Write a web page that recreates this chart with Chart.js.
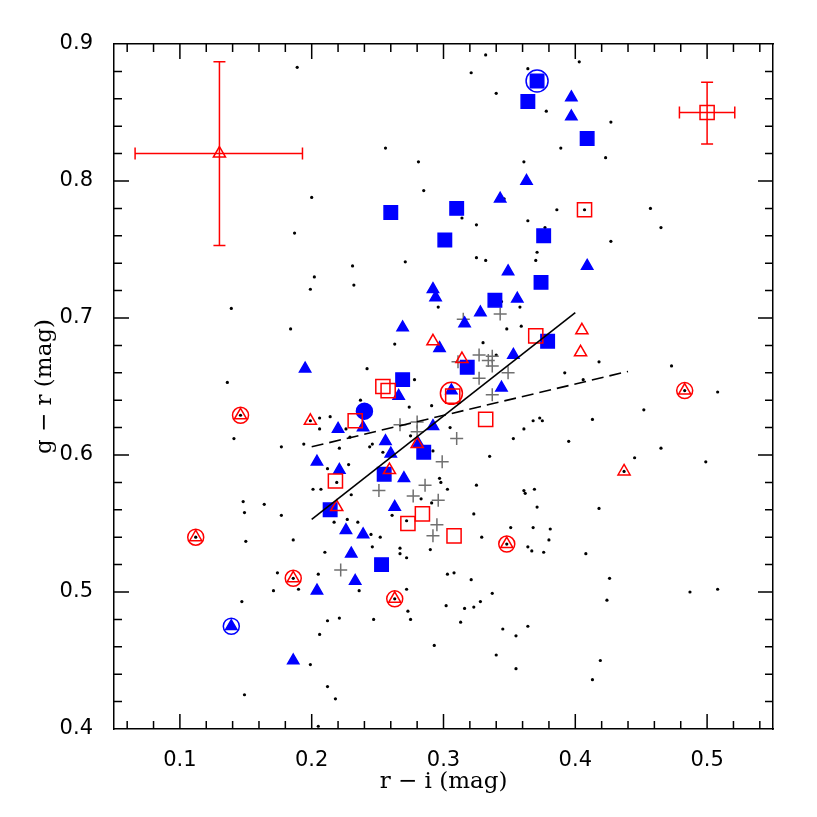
<!DOCTYPE html>
<html>
<head>
<meta charset="utf-8">
<title>g - r vs r - i</title>
<script src="https://cdn.jsdelivr.net/npm/chart.js@4.4.0/dist/chart.umd.min.js"></script>
<style>
  body { margin: 0; background: #fff; }
  canvas { display: block; }
</style>
</head>
<body>
<canvas id="my-chart" width="817" height="817"></canvas>
<script>
'use strict';

// Data

let xTickLabels = [0.1, 0.2, 0.3, 0.4, 0.5];
let yTickLabels = [0.4, 0.5, 0.6, 0.7, 0.8, 0.9];

// small black field points
let fieldDots = [
  [0.189, 0.883], [0.200, 0.788], [0.187, 0.762], [0.202, 0.730], [0.332, 0.892], [0.321, 0.879],
  [0.364, 0.882], [0.340, 0.864], [0.378, 0.851], [0.256, 0.824], [0.281, 0.814], [0.361, 0.814],
  [0.389, 0.824], [0.285, 0.793], [0.346, 0.787], [0.314, 0.773], [0.325, 0.768], [0.364, 0.771],
  [0.386, 0.779], [0.377, 0.766], [0.371, 0.748], [0.231, 0.738], [0.271, 0.741], [0.325, 0.744],
  [0.332, 0.742], [0.370, 0.742], [0.403, 0.887], [0.427, 0.843], [0.423, 0.817], [0.407, 0.779],
  [0.457, 0.780], [0.465, 0.766], [0.427, 0.756], [0.199, 0.721], [0.139, 0.707], [0.184, 0.692],
  [0.136, 0.653], [0.199, 0.625], [0.206, 0.627], [0.214, 0.628], [0.206, 0.619], [0.226, 0.619],
  [0.141, 0.612], [0.177, 0.606], [0.194, 0.608], [0.221, 0.605], [0.229, 0.613], [0.212, 0.590],
  [0.228, 0.593], [0.219, 0.580], [0.201, 0.575], [0.207, 0.575], [0.148, 0.566], [0.164, 0.564],
  [0.149, 0.558], [0.177, 0.556], [0.217, 0.551], [0.150, 0.537], [0.186, 0.538], [0.210, 0.529],
  [0.174, 0.514], [0.205, 0.513], [0.171, 0.501], [0.190, 0.502], [0.147, 0.493], [0.212, 0.479],
  [0.221, 0.481], [0.206, 0.469], [0.199, 0.447], [0.212, 0.431], [0.149, 0.425], [0.218, 0.422],
  [0.205, 0.402], [0.232, 0.724], [0.344, 0.712], [0.296, 0.708], [0.358, 0.708], [0.348, 0.692],
  [0.359, 0.694], [0.330, 0.682], [0.263, 0.681], [0.340, 0.673], [0.242, 0.663], [0.278, 0.655],
  [0.237, 0.640], [0.274, 0.635], [0.291, 0.636], [0.305, 0.620], [0.361, 0.619], [0.368, 0.625],
  [0.373, 0.627], [0.375, 0.625], [0.353, 0.612], [0.395, 0.610], [0.246, 0.608], [0.244, 0.606],
  [0.275, 0.614], [0.254, 0.602], [0.292, 0.603], [0.335, 0.599], [0.297, 0.583], [0.298, 0.580],
  [0.303, 0.575], [0.325, 0.578], [0.369, 0.575], [0.361, 0.574], [0.362, 0.572], [0.283, 0.568],
  [0.291, 0.565], [0.371, 0.562], [0.230, 0.571], [0.227, 0.553], [0.235, 0.551], [0.245, 0.542],
  [0.252, 0.540], [0.261, 0.556], [0.323, 0.557], [0.329, 0.540], [0.351, 0.547], [0.368, 0.547],
  [0.381, 0.546], [0.380, 0.538], [0.364, 0.533], [0.367, 0.530], [0.376, 0.529], [0.246, 0.533],
  [0.267, 0.532], [0.267, 0.528], [0.272, 0.525], [0.290, 0.531], [0.272, 0.502], [0.273, 0.486],
  [0.275, 0.480], [0.303, 0.513], [0.308, 0.514], [0.321, 0.509], [0.337, 0.499], [0.328, 0.493],
  [0.323, 0.489], [0.316, 0.488], [0.302, 0.490], [0.313, 0.478], [0.247, 0.480], [0.345, 0.473],
  [0.355, 0.468], [0.364, 0.475], [0.293, 0.461], [0.340, 0.454], [0.355, 0.444], [0.272, 0.552],
  [0.236, 0.501], [0.418, 0.668], [0.473, 0.665], [0.392, 0.660], [0.406, 0.655], [0.508, 0.646],
  [0.452, 0.633], [0.413, 0.626], [0.465, 0.605], [0.445, 0.598], [0.499, 0.595], [0.418, 0.561],
  [0.408, 0.528], [0.426, 0.510], [0.424, 0.494], [0.487, 0.500], [0.508, 0.502], [0.419, 0.450],
  [0.413, 0.436], [0.146, 0.629], [0.112, 0.540], [0.186, 0.510], [0.263, 0.495], [0.348, 0.535],
  [0.483, 0.647], [0.437, 0.588]
];

let grayPlus = [
  [0.343, 0.703], [0.315, 0.699], [0.327, 0.673], [0.337, 0.672], [0.334, 0.669], [0.337, 0.665],
  [0.311, 0.668], [0.349, 0.660], [0.327, 0.656], [0.337, 0.644], [0.267, 0.622], [0.280, 0.624],
  [0.280, 0.617], [0.310, 0.612], [0.299, 0.595], [0.286, 0.578], [0.251, 0.574], [0.277, 0.570],
  [0.296, 0.567], [0.295, 0.549], [0.292, 0.541], [0.222, 0.516]
];

let blueTriangles = [
  [0.397, 0.861], [0.397, 0.847], [0.363, 0.800], [0.343, 0.787], [0.409, 0.738], [0.349, 0.734],
  [0.292, 0.721], [0.294, 0.715], [0.356, 0.714], [0.328, 0.704], [0.316, 0.696], [0.269, 0.693],
  [0.297, 0.678], [0.195, 0.663], [0.353, 0.673], [0.306, 0.647], [0.344, 0.649], [0.266, 0.643],
  [0.220, 0.619], [0.239, 0.620], [0.292, 0.621], [0.256, 0.610], [0.281, 0.608], [0.204, 0.595],
  [0.221, 0.589], [0.260, 0.601], [0.270, 0.583], [0.263, 0.562], [0.226, 0.545], [0.239, 0.542],
  [0.230, 0.528], [0.233, 0.508], [0.204, 0.501], [0.186, 0.450], [0.139, 0.475]
];

let blueSquares = [
  [0.371, 0.873], [0.364, 0.858], [0.409, 0.831], [0.260, 0.777], [0.310, 0.780], [0.301, 0.757],
  [0.376, 0.760], [0.374, 0.726], [0.339, 0.713], [0.379, 0.683], [0.318, 0.664], [0.269, 0.655],
  [0.285, 0.602], [0.255, 0.586], [0.214, 0.560], [0.253, 0.520]
];

let blueRingsBig = [[0.371, 0.873]];
let blueRings = [[0.139, 0.475]];
let blueDiscs = [[0.240, 0.632]];

let redSquares = [
  [0.407, 0.779], [0.370, 0.687], [0.254, 0.650], [0.258, 0.647], [0.307, 0.643], [0.332, 0.626],
  [0.233, 0.625], [0.218, 0.581], [0.284, 0.557], [0.273, 0.550], [0.308, 0.541]
];

let redTriangles = [
  [0.405, 0.691], [0.404, 0.675], [0.292, 0.683], [0.314, 0.670], [0.199, 0.625], [0.280, 0.608],
  [0.259, 0.589], [0.219, 0.562], [0.437, 0.588], [0.146, 0.629], [0.112, 0.540], [0.186, 0.510],
  [0.263, 0.495], [0.348, 0.535], [0.483, 0.647]
];

let redRings = [[0.146, 0.629], [0.112, 0.540], [0.186, 0.510], [0.263, 0.495], [0.348, 0.535], [0.483, 0.647]];
let redRingsBig = [[0.306, 0.645]];

// fits
let fitSolid = [[0.2, 0.553], [0.4, 0.704]];
let fitDashed = [[0.2, 0.606], [0.44, 0.661]];

// typical error points
let errTriangle = [[0.13, 0.82]];
let errSquare = [[0.5, 0.85]];
let errPoints = [[0.13, 0.82], [0.5, 0.85]];
let errX = [[0.066, 0.193], [0.479, 0.521]];
let errY = [[0.753, 0.887], [0.827, 0.872]];

// Helper Functions

function toXY(arr) {
  return arr.map(p => ({ x: p[0], y: p[1] }));
}

function markerSet(arr, style, radius, fill, stroke) {
  return {
    data: toXY(arr),
    pointStyle: style,
    pointRadius: radius,
    pointBackgroundColor: fill,
    pointBorderColor: stroke,
    pointBorderWidth: 1.5,
    showLine: false
  };
}

function lineSet(arr, dash) {
  return {
    data: toXY(arr),
    showLine: true,
    borderColor: '#000',
    borderWidth: 1.6,
    borderDash: dash,
    pointRadius: 0,
    fill: false
  };
}

// Plugins

let insideTicks = {
  id: 'insideTicks',
  afterDraw(chart) {
    let ctx = chart.ctx;
    let xs = chart.scales.x;
    let ys = chart.scales.y;
    let area = chart.chartArea;
    ctx.save();
    ctx.strokeStyle = '#000';
    ctx.lineWidth = 1.5;
    ctx.beginPath();
    for (let i = 3; i <= 27; i++) {
      let px = xs.getPixelForValue(i * 0.02);
      let len = i % 5 === 0 ? 15 : 8;
      ctx.moveTo(px, area.bottom);
      ctx.lineTo(px, area.bottom - len);
      ctx.moveTo(px, area.top);
      ctx.lineTo(px, area.top + len);
    }
    for (let i = 21; i <= 44; i++) {
      let py = ys.getPixelForValue(i * 0.02);
      let len = i % 5 === 0 ? 15 : 8;
      ctx.moveTo(area.left, py);
      ctx.lineTo(area.left + len, py);
      ctx.moveTo(area.right, py);
      ctx.lineTo(area.right - len, py);
    }
    ctx.stroke();
    ctx.restore();
  }
};

let errorBars = {
  id: 'errorBars',
  afterDatasetsDraw(chart) {
    let ctx = chart.ctx;
    let xs = chart.scales.x;
    let ys = chart.scales.y;
    let cap = 6;
    ctx.save();
    ctx.strokeStyle = '#ff0000';
    ctx.lineWidth = 1.5;
    ctx.beginPath();
    for (let i = 0; i < errPoints.length; i++) {
      let cx = xs.getPixelForValue(errPoints[i][0]);
      let cy = ys.getPixelForValue(errPoints[i][1]);
      let x0 = xs.getPixelForValue(errX[i][0]);
      let x1 = xs.getPixelForValue(errX[i][1]);
      let y0 = ys.getPixelForValue(errY[i][0]);
      let y1 = ys.getPixelForValue(errY[i][1]);
      ctx.moveTo(x0, cy); ctx.lineTo(x1, cy);
      ctx.moveTo(cx, y0); ctx.lineTo(cx, y1);
      ctx.moveTo(x0, cy - cap); ctx.lineTo(x0, cy + cap);
      ctx.moveTo(x1, cy - cap); ctx.lineTo(x1, cy + cap);
      ctx.moveTo(cx - cap, y0); ctx.lineTo(cx + cap, y0);
      ctx.moveTo(cx - cap, y1); ctx.lineTo(cx + cap, y1);
    }
    ctx.stroke();
    ctx.restore();
  }
};

// Chart Stuff

let canvasElem = document.getElementById('my-chart');
let clear = 'rgba(0,0,0,0)';
let red = '#ff0000';
let blue = '#0000ff';
let tickFont = { family: 'DejaVu Sans', size: 21 };
let titleFont = { family: 'DejaVu Serif', size: 23 };
let border = { display: true, color: '#000', width: 1.5 };

// first dataset ends up on top
let datasets = [
  lineSet(fitSolid, []),
  lineSet(fitDashed, [12, 6]),
  markerSet(errSquare, 'rect', 10, clear, red),
  markerSet(errTriangle, 'triangle', 7, clear, red),
  markerSet(redRingsBig, 'circle', 11, clear, red),
  markerSet(redRings, 'circle', 8, clear, red),
  markerSet(redTriangles, 'triangle', 7, clear, red),
  markerSet(redSquares, 'rect', 10, clear, red),
  markerSet(blueRingsBig, 'circle', 11, clear, blue),
  markerSet(blueRings, 'circle', 8, clear, blue),
  markerSet(blueDiscs, 'circle', 8, blue, blue),
  markerSet(blueSquares, 'rect', 9.5, blue, blue),
  markerSet(blueTriangles, 'triangle', 6.5, blue, blue),
  markerSet(grayPlus, 'cross', 6.5, clear, '#707070'),
  markerSet(fieldDots, 'circle', 1.6, '#000', '#000')
];
datasets[datasets.length - 1].pointBorderWidth = 0;

let myObj = {
  type: 'scatter',
  data: { datasets: datasets },
  options: {
    responsive: false,
    devicePixelRatio: 1,
    animation: false,
    events: [],
    layout: { padding: 0 },
    plugins: { legend: { display: false }, tooltip: { enabled: false } },
    scales: {
      x: {
        type: 'linear',
        position: 'bottom',
        min: 0.05,
        max: 0.55,
        grid: { display: false },
        border: border,
        afterBuildTicks: axis => { axis.ticks = xTickLabels.map(v => ({ value: v })); },
        afterFit: axis => { axis.height = 88; },
        ticks: {
          autoSkip: false,
          maxRotation: 0,
          padding: 11,
          color: '#000',
          font: tickFont,
          callback: v => v.toFixed(1)
        },
        title: {
          display: true,
          text: 'r \u2212 i (mag)',
          color: '#000',
          font: titleFont,
          padding: { top: 0, bottom: 21 }
        }
      },
      x2: {
        type: 'linear',
        position: 'top',
        min: 0.05,
        max: 0.55,
        display: true,
        grid: { display: false },
        border: border,
        ticks: { display: false },
        afterFit: axis => { axis.height = 44; }
      },
      y: {
        type: 'linear',
        position: 'left',
        min: 0.4,
        max: 0.9,
        grid: { display: false },
        border: border,
        afterBuildTicks: axis => { axis.ticks = yTickLabels.map(v => ({ value: v })); },
        afterFit: axis => { axis.width = 114; },
        ticks: {
          autoSkip: false,
          padding: 13,
          color: '#000',
          font: tickFont,
          callback: v => v.toFixed(1)
        },
        title: {
          display: true,
          text: 'g \u2212 r (mag)',
          color: '#000',
          font: titleFont,
          padding: { top: 31, bottom: 0 }
        }
      },
      y2: {
        type: 'linear',
        position: 'right',
        min: 0.4,
        max: 0.9,
        display: true,
        grid: { display: false },
        border: border,
        ticks: { display: false },
        afterFit: axis => { axis.width = 44; }
      }
    }
  },
  plugins: [insideTicks, errorBars]
};

new Chart(canvasElem, myObj);
</script>
</body>
</html>
